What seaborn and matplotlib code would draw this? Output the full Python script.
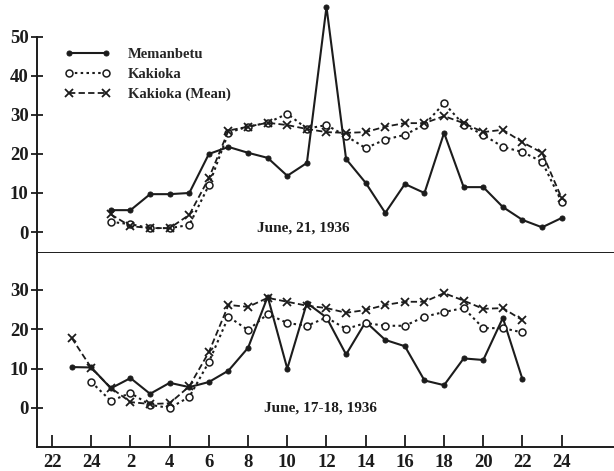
import numpy as np
import pandas as pd
import matplotlib
matplotlib.use("Agg")
import matplotlib.pyplot as plt
import seaborn as sns

# ---------------- data ----------------
tick_hours = [22, 24, 2, 4, 6, 8, 10, 12, 14, 16, 18, 20, 22, 24]

top_hours = list(range(1, 25))
top_memanbetu = [5.6, 5.6, 9.7, 9.7, 10.0, 20.0, 21.8, 20.3, 19.0, 14.4, 17.7, 57.7,
                 18.7, 12.6, 4.9, 12.3, 10.0, 25.4, 11.5, 11.5, 6.4, 3.1, 1.2, 3.6]
top_kakioka = [2.6, 2.0, 1.0, 1.0, 1.8, 12.0, 25.5, 27.0, 28.0, 30.3, 26.5, 27.4,
               24.6, 21.5, 23.7, 24.9, 27.5, 33.0, 27.5, 24.9, 21.8, 20.5, 18.0, 7.7]
top_mean = [4.5, 1.5, 1.0, 1.0, 4.4, 13.8, 26.0, 27.0, 28.0, 27.4, 26.4, 25.6,
            25.4, 25.6, 27.0, 27.9, 27.9, 29.7, 27.9, 25.6, 26.2, 23.0, 20.3, 8.7]

bottom_hours = [23, 24] + list(range(1, 23))
bottom_memanbetu = [10.4, 10.3, 5.0, 7.6, 3.6, 6.4, 5.3, 6.6, 9.5, 15.3, 28.3, 10.0,
                    26.7, 23.0, 13.6, 21.9, 17.3, 15.7, 7.0, 5.8, 12.6, 12.2, 22.9, 7.3]
bottom_kakioka = [np.nan, 6.6, 1.8, 3.8, 0.8, 0.0, 2.8, 11.7, 23.2, 19.8, 23.9, 21.6,
                  20.9, 23.0, 20.1, 21.6, 20.9, 20.9, 23.2, 24.4, 25.4, 20.3, 20.3, 19.2]
bottom_mean = [17.8, 10.2, 5.1, 1.5, 1.0, 1.2, 5.5, 14.2, 26.2, 25.7, 28.0, 27.0,
               26.0, 25.4, 24.2, 24.9, 26.2, 27.0, 27.0, 29.2, 27.3, 25.2, 25.4, 22.3]

series_names = ["Memanbetu", "Kakioka", "Kakioka (Mean)"]
top_label = "June, 21, 1936"
bottom_label = "June, 17-18, 1936"

# elapsed-hour positions (0 = 22 h of the previous day)
top_x = [h + 2 for h in top_hours]
bottom_x = [h - 22 if h >= 23 else h + 2 for h in bottom_hours]

top_df = pd.DataFrame({"x": top_x, series_names[0]: top_memanbetu,
                       series_names[1]: top_kakioka, series_names[2]: top_mean})
bottom_df = pd.DataFrame({"x": bottom_x, series_names[0]: bottom_memanbetu,
                          series_names[1]: bottom_kakioka, series_names[2]: bottom_mean})

# ---------------- style ----------------
sns.set_theme(style="white")
plt.rcParams["font.family"] = ["Liberation Serif", "DejaVu Serif"]
plt.rcParams["font.weight"] = "bold"
ink = "#1c1c1c"

styles = {
    "Memanbetu": dict(linestyle="-", marker="o", markersize=3.6, mfc=ink, mec=ink, lw=1.5),
    "Kakioka": dict(linestyle=(0, (1.2, 1.6)), marker="o", markersize=5, mfc="white", mec=ink, mew=1.1, lw=1.5),
    "Kakioka (Mean)": dict(linestyle=(0, (3.5, 1.8)), marker="x", markersize=6, mec=ink, mew=1.3, lw=1.3),
}

fig = plt.figure(figsize=(6.14, 4.71), dpi=100)
fig.patch.set_facecolor("white")
L = 37 / 614
ax1 = fig.add_axes([L, 1 - 253 / 471, 1 - L, 252 / 471])
ax2 = fig.add_axes([L, 1 - 447 / 471, 1 - L, 194 / 471])

for ax, df in [(ax1, top_df), (ax2, bottom_df)]:
    for name in series_names:
        sub = df[["x", name]].dropna()
        sns.lineplot(data=sub, x="x", y=name, ax=ax, color=ink, label=name,
                     legend=False, clip_on=False, **styles[name])
    ax.set_facecolor("white")
    ax.set_xlim(-0.77, 28.67)
    ax.set_xlabel("")
    ax.set_ylabel("")
    for s in ["top", "right"]:
        ax.spines[s].set_visible(False)
    for s in ["left", "bottom"]:
        ax.spines[s].set_color(ink)
        ax.spines[s].set_linewidth(1.4)

# top panel
ax1.set_ylim(-5.38, 59.2)
ax1.spines["left"].set_bounds(-5.38, 50)
ax1.set_yticks([0, 10, 20, 30, 40, 50])
ax1.set_yticklabels(["0", "10", "20", "30", "40", "50"])
ax1.set_xticks([])
ax1.tick_params(axis="y", direction="inout", length=8, width=1.3, color=ink,
                labelsize=13.5, pad=2, labelcolor=ink, left=True)
ax1.text(12.8, 1.0, top_label, ha="center", va="center", fontsize=11,
         fontweight="bold", color=ink)

# bottom panel
ax2.set_ylim(-9.92, 39.4)
ax2.set_yticks([0, 10, 20, 30])
ax2.set_xticks(list(range(0, 27, 2)))
ax2.set_xticklabels([str(h) for h in tick_hours])
ax2.tick_params(axis="y", direction="inout", length=8, width=1.3, color=ink,
                labelsize=13.5, pad=2, labelcolor=ink, left=True)
ax2.tick_params(axis="x", direction="in", length=9, width=1.3, color=ink,
                labelsize=13.5, pad=5, labelcolor=ink, bottom=True)
ax2.text(13.7, 0.0, bottom_label, ha="center", va="center", fontsize=11,
         fontweight="bold", color=ink)

# legend
handles = [ax1.lines[i] for i in range(3)]
fig.legend(handles, series_names, loc="upper left",
           bbox_to_anchor=(65 / 614, 1 - 48 / 471), frameon=False,
           numpoints=2, handlelength=3.1, handletextpad=1.2,
           labelspacing=0.45, borderpad=0, borderaxespad=0,
           prop={"family": "Liberation Serif", "weight": "bold", "size": 10.5})

fig.savefig("out.png", dpi=100, facecolor="white")
